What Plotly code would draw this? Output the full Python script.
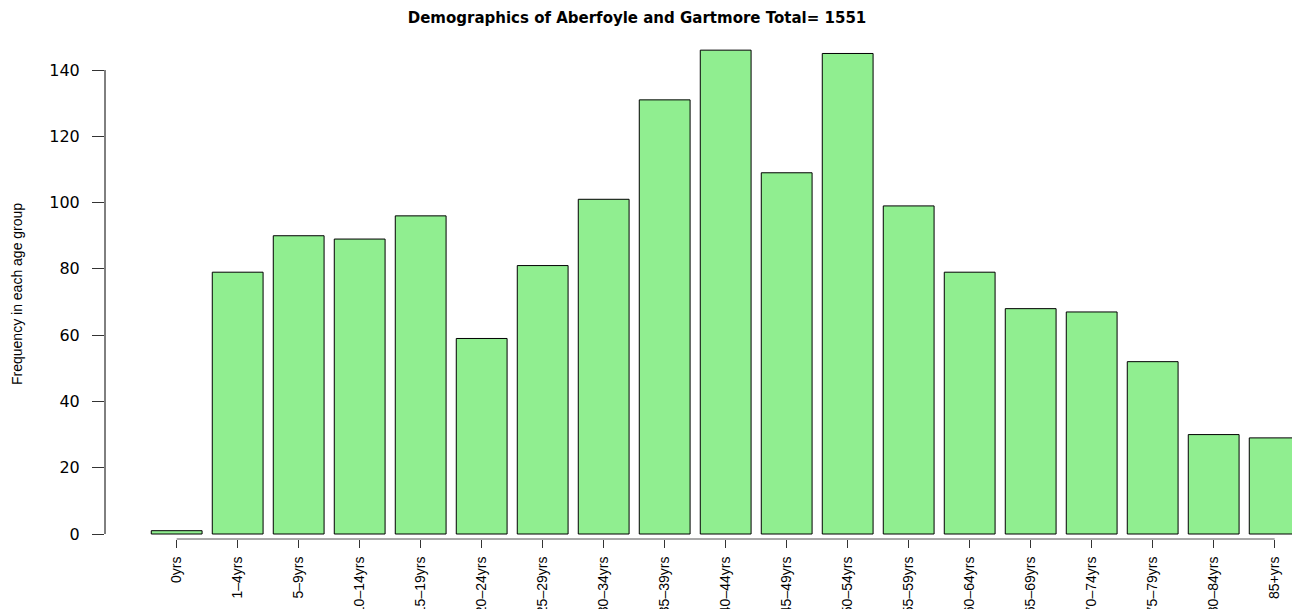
import plotly.graph_objects as go

ages = ["0yrs", "1\u20134yrs", "5\u20139yrs", "10\u201314yrs", "15\u201319yrs", "20\u201324yrs",
        "25\u201329yrs", "30\u201334yrs", "35\u201339yrs", "40\u201344yrs", "45\u201349yrs",
        "50\u201354yrs", "55\u201359yrs", "60\u201364yrs", "65\u201369yrs", "70\u201374yrs",
        "75\u201379yrs", "80\u201384yrs", "85+yrs"]
counts = [1, 79, 90, 89, 96, 59, 81, 101, 131, 146, 109, 145, 99, 79, 68, 67, 52, 30, 29]
y_ticks = [0, 20, 40, 60, 80, 100, 120, 140]
title_text = "Demographics of Aberfoyle and Gartmore Total= " + str(sum(counts))
y_title = "Frequency in each age group"

narrow = "Liberation Sans, Arial, sans-serif"
wide = "DejaVu Sans, Verdana, sans-serif"

# page has an 8px body margin; figure sized to fit inside the 1300x609 window
W, H = 1292, 601
L, T, B = 97, 23, 70

fig = go.Figure()
fig.add_trace(go.Bar(
    x=ages, y=counts,
    marker=dict(color="#90EE90", line=dict(color="black", width=1)),
    hoverinfo="x+y",
))

fig.update_layout(
    width=W, height=H,
    margin=dict(l=L, r=0, t=T, b=B, autoexpand=False),
    plot_bgcolor="white", paper_bgcolor="white",
    bargap=0.167,
    showlegend=False,
    title=dict(text="<b>" + title_text + "</b>", x=629 / W, y=1 - 10 / H,
               xanchor="center", yanchor="middle", xref="container", yref="container",
               font=dict(family=wide, size=15, color="black")),
    xaxis=dict(
        type="category", range=[-1.175, 18.415], showgrid=False, zeroline=False,
        showline=False, ticks="outside", ticklen=8, tickwidth=1, tickcolor="#333",
        tickangle=-90, tickfont=dict(family=narrow, size=14, color="black"),
        ticklabelstandoff=3, automargin=False, fixedrange=True,
    ),
    yaxis=dict(
        range=[-1.509, 151.78], showgrid=False, zeroline=False, showline=False,
        tickvals=y_ticks, ticks="outside", ticklen=12, tickwidth=1, tickcolor="#333",
        tickfont=dict(family=wide, size=16, color="black"),
        ticklabelstandoff=9, automargin=False, fixedrange=True,
    ),
    shapes=[
        dict(type="line", xref="x", yref="paper", x0=0, x1=len(ages) - 1, y0=0, y1=0,
             line=dict(color="#555", width=1)),
        dict(type="line", xref="paper", yref="y", x0=0, x1=0, y0=y_ticks[0], y1=y_ticks[-1],
             line=dict(color="black", width=1)),
    ],
    annotations=[
        dict(text=y_title, xref="paper", yref="paper", x=(17 - 105) / 1195, y=(539 - 294) / 508,
             xanchor="center", yanchor="middle", textangle=-90, showarrow=False,
             font=dict(family=narrow, size=14, color="black")),
    ],
)

fig.write_html("out.html")
